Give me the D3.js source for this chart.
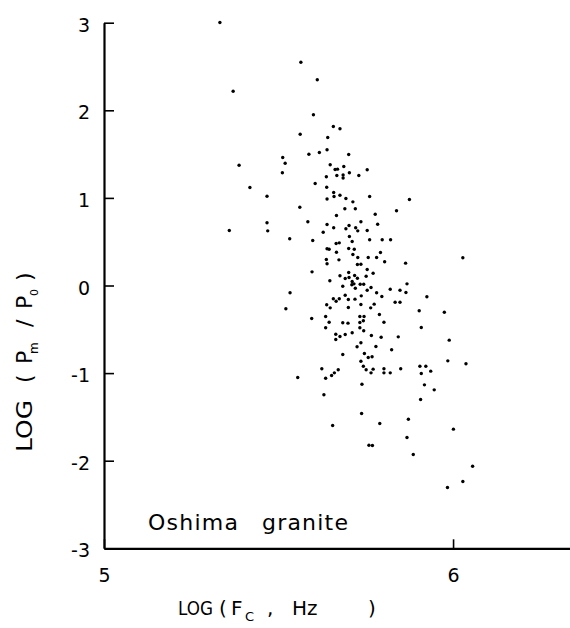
<!DOCTYPE html>
<html>
<head>
<meta charset="utf-8">
<script src="https://cdn.jsdelivr.net/npm/d3@7/dist/d3.min.js"></script>
<style>
  html, body { margin: 0; padding: 0; background: #fff; }
  svg { display: block; }
  text { font-family: "DejaVu Sans", sans-serif; fill: #000; }
</style>
</head>
<body>
<svg id="chart" width="570" height="628"></svg>
<script>
// ---- data ----
const logFc = [
  5.332,5.564,5.611,5.370,5.600,5.657,5.676,5.562,5.641,5.639,
  5.587,5.617,5.701,5.512,5.519,5.387,5.511,5.648,5.662,5.669,
  5.687,5.637,5.667,5.685,5.685,5.703,5.730,5.754,5.605,5.418,
  5.467,5.638,5.658,5.659,5.676,5.693,5.639,5.761,5.875,5.838,
  5.467,5.359,5.469,5.532,5.533,5.521,5.713,5.561,5.690,5.720,
  5.666,5.584,5.736,5.777,5.784,5.639,5.658,5.702,5.693,5.721,
  5.727,5.754,5.628,5.598,5.703,5.711,5.761,5.797,5.821,5.665,
  5.674,5.639,5.645,5.666,5.701,5.717,5.713,5.727,5.792,5.757,
  5.781,5.637,5.639,5.673,5.804,5.726,5.736,5.754,5.771,5.596,
  5.701,5.676,5.691,5.702,5.718,5.726,5.751,5.647,5.711,5.716,
  5.710,5.734,5.744,5.684,5.765,5.720,5.820,5.754,5.781,5.796,
  5.834,5.657,5.665,5.674,5.691,5.700,5.719,5.737,5.736,5.774,
  5.764,5.638,5.648,5.700,5.595,5.635,5.645,5.635,5.684,5.699,
  5.733,5.745,5.733,5.743,5.789,5.802,5.733,5.744,5.711,5.691,
  5.664,5.676,5.664,5.766,5.794,5.736,5.725,5.779,5.824,5.684,
  5.746,5.757,5.768,5.736,5.743,5.751,5.771,5.802,5.802,5.820,
  5.765,5.624,5.671,5.660,5.652,5.635,5.555,5.864,6.028,5.868,
  5.848,5.865,5.925,5.848,5.903,5.975,5.909,5.843,5.989,5.985,
  6.037,5.850,5.905,5.922,5.909,5.936,5.918,5.946,5.907,5.872,
  6.001,5.868,5.886,6.056,6.028,5.984,5.739,5.630,5.738,5.655,
  5.790,5.759,5.769
];
const logPmP0 = [
  3.002,2.549,2.348,2.218,1.949,1.815,1.789,1.727,1.689,1.549,
  1.499,1.518,1.495,1.461,1.396,1.373,1.287,1.378,1.324,1.328,
  1.358,1.241,1.256,1.261,1.227,1.287,1.256,1.321,1.164,1.119,
  1.019,1.122,1.062,1.016,1.031,0.993,0.987,1.016,0.982,0.853,
  0.716,0.628,0.624,0.533,-0.082,-0.266,0.955,0.894,0.876,0.876,
  0.799,0.727,0.727,0.814,0.700,0.696,0.659,0.685,0.647,0.659,
  0.624,0.628,0.608,0.514,0.559,0.502,0.522,0.522,0.522,0.479,
  0.487,0.419,0.414,0.380,0.422,0.414,0.354,0.320,0.377,0.320,
  0.320,0.297,0.248,0.293,0.271,0.240,0.243,0.183,0.140,0.156,
  0.148,0.111,0.080,0.091,0.114,0.083,0.106,0.054,0.046,0.019,
  0.008,0.015,0.015,-0.008,-0.023,-0.031,-0.042,-0.054,-0.083,-0.126,
  -0.191,-0.152,-0.179,-0.152,-0.111,-0.160,-0.156,-0.118,-0.217,-0.213,
  -0.255,-0.220,-0.255,-0.251,-0.377,-0.354,-0.419,-0.483,-0.426,-0.430,
  -0.354,-0.354,-0.422,-0.403,-0.331,-0.419,-0.483,-0.517,-0.540,-0.559,
  -0.556,-0.582,-0.616,-0.571,-0.590,-0.654,-0.700,-0.696,-0.734,-0.788,
  -0.776,-0.822,-0.814,-0.864,-0.921,-0.962,-0.955,-0.951,-0.997,-0.997,
  -0.997,-0.951,-0.962,-0.997,-1.027,-1.058,-1.050,0.255,0.316,0.019,
  -0.054,-0.080,-0.129,-0.191,-0.289,-0.305,-0.479,-0.586,-0.624,-0.860,
  -0.894,-0.951,-0.921,-0.921,-1.005,-0.978,-1.134,-1.191,-1.301,-1.526,
  -1.640,-1.735,-1.929,-2.063,-2.237,-2.306,-1.127,-1.248,-1.461,-1.598,
  -1.575,-1.823,-1.826
];
const xTicks = [5, 6];
const yTicks = [-3, -2, -1, 0, 1, 2, 3];
const sampleLabel = "Oshima granite";

// ---- layout ----
const svg = d3.select("#chart");
const x = d3.scaleLinear().domain([5, 6.335]).range([104, 570]);
const y = d3.scaleLinear().domain([-3, 3]).range([548.3, 22.7]);

// points
svg.append("g")
  .selectAll("circle")
  .data(logFc.map((v, i) => [v, logPmP0[i]]))
  .join("circle")
  .attr("cx", d => x(d[0]))
  .attr("cy", d => y(d[1]))
  .attr("r", 1.7)
  .attr("fill", "#000");

// axes
const fmt = d => (d < 0 ? "-" + Math.abs(d) : String(d));
const yAxis = d3.axisLeft(y).tickValues(yTicks).tickSizeInner(-10).tickSizeOuter(0)
  .tickPadding(14).tickFormat(fmt);
const xAxis = d3.axisBottom(x).tickValues(xTicks).tickSizeInner(-9).tickSizeOuter(0)
  .tickPadding(20).tickFormat(fmt);

const gy = svg.append("g").attr("transform", `translate(${x(5)},0)`).call(yAxis);
const gx = svg.append("g").attr("transform", `translate(0,${y(-3)})`).call(xAxis);

[gx, gy].forEach(g => {
  g.attr("font-family", null).attr("font-size", null);
  g.select(".domain").attr("stroke", "#000").attr("stroke-width", 2.2);
  g.selectAll(".tick line").attr("stroke", "#000").attr("stroke-width", 1.6);
  g.selectAll(".tick text").style("font-family", '"DejaVu Sans", sans-serif')
    .style("font-size", "19px").attr("fill", "#000");
});
gy.selectAll(".tick text").attr("dy", "0.45em");

// x axis title
const xt = svg.append("text").attr("y", 615).style("font-size", "20px");
xt.append("tspan").attr("x", 178).attr("textLength", 35).attr("lengthAdjust", "spacingAndGlyphs").text("LOG");
xt.append("tspan").attr("x", 219).text("(");
xt.append("tspan").attr("x", 231).text("F");
xt.append("tspan").attr("x", 245).attr("y", 621).style("font-size", "13px").text("C");
xt.append("tspan").attr("x", 267).attr("y", 615).text(",");
xt.append("tspan").attr("x", 292).text("Hz");
xt.append("tspan").attr("x", 368).text(")");

// y axis title (rotated)
const yt = svg.append("text").attr("transform", "rotate(-90)").attr("y", 32).style("font-size", "22px");
yt.append("tspan").attr("x", -452).attr("textLength", 52).attr("lengthAdjust", "spacingAndGlyphs").text("LOG");
yt.append("tspan").attr("x", -383).text("(");
yt.append("tspan").attr("x", -364).text("P");
yt.append("tspan").attr("x", -354).attr("y", 38).style("font-size", "12px").text("m");
yt.append("tspan").attr("x", -327).attr("y", 32).text("/");
yt.append("tspan").attr("x", -309).text("P");
yt.append("tspan").attr("x", -296).attr("y", 38).style("font-size", "11px").text("0");
yt.append("tspan").attr("x", -281).attr("y", 32).text(")");

// sample label
const words = sampleLabel.split(" ");
const lab = svg.append("text").attr("y", 530).style("font-size", "22px");
lab.append("tspan").attr("x", 148).attr("textLength", 90).attr("lengthAdjust", "spacing").text(words[0]);
lab.append("tspan").attr("x", 262).attr("textLength", 86).attr("lengthAdjust", "spacing").text(words[1]);
</script>
</body>
</html>
